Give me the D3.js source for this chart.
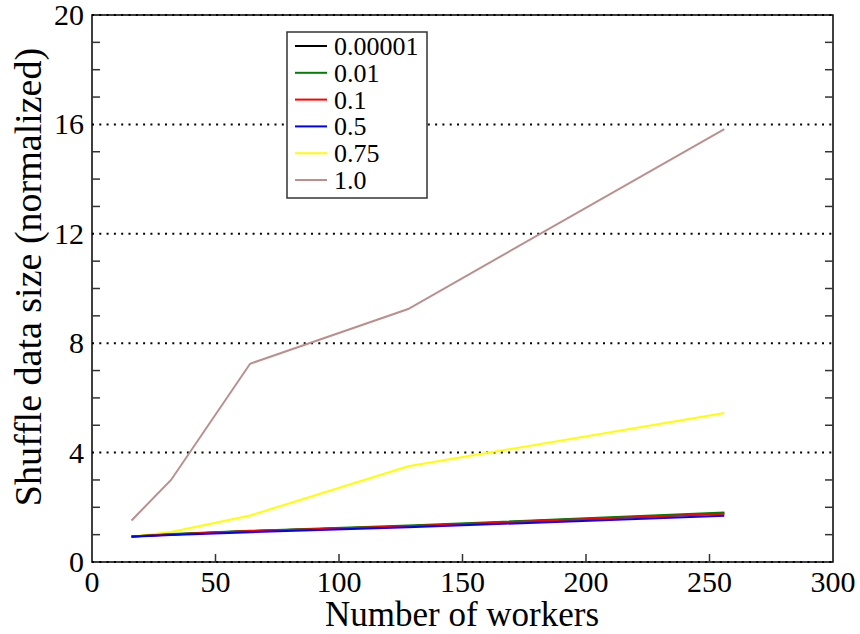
<!DOCTYPE html>
<html>
<head>
<meta charset="utf-8">
<script src="https://cdn.jsdelivr.net/npm/d3@7"></script>
<style>
  html, body { margin: 0; padding: 0; background: #fff; }
  svg { display: block; }
  svg text { font-family: "Liberation Serif", "DejaVu Serif", serif; fill: #000; }
</style>
</head>
<body>
<svg id="chart" width="860" height="634"></svg>
<script>
// Number of workers on the x axis
const workers = [16, 32, 64, 128, 256];

// Shuffle data size (normalized), one series per sampling fraction
const seriesNames = ["0.00001", "0.01", "0.1", "0.5", "0.75", "1.0"];
const seriesColors = ["#000000", "#008000", "#ff0000", "#0000ff", "#ffff00", "#bc8f8f"];
const s000001 = [0.93, 1.01, 1.13, 1.31, 1.78];
const s001    = [0.93, 1.02, 1.14, 1.33, 1.81];
const s01     = [0.93, 1.01, 1.13, 1.31, 1.76];
const s05     = [0.92, 0.99, 1.09, 1.27, 1.69];
const s075    = [0.93, 1.10, 1.70, 3.50, 5.45];
const s10     = [1.52, 3.00, 7.25, 9.25, 15.83];
const seriesValues = [s000001, s001, s01, s05, s075, s10];

const xTicks = [0, 50, 100, 150, 200, 250, 300];
const yTicks = [0, 4, 8, 12, 16, 20];
const yMinorTicks = d3.range(0, 21, 1);

const svg = d3.select("#chart");
const plotL = 92, plotR = 833, plotT = 15, plotB = 562;

const x = d3.scaleLinear().domain([0, 300]).range([plotL, plotR]);
const y = d3.scaleLinear().domain([0, 20]).range([plotB, plotT]);

// dotted horizontal grid at the labelled y values
svg.append("g").selectAll("line").data(yTicks).join("line")
  .attr("x1", plotL).attr("x2", plotR)
  .attr("y1", d => y(d)).attr("y2", d => y(d))
  .attr("stroke", "#000").attr("stroke-width", 2)
  .attr("stroke-dasharray", "2,5.3");

// frame
svg.append("rect")
  .attr("x", plotL).attr("y", plotT)
  .attr("width", plotR - plotL).attr("height", plotB - plotT)
  .attr("fill", "none").attr("stroke", "#000").attr("stroke-width", 1.5);

// inward minor ticks on left and right
const minor = svg.append("g").attr("stroke", "#333").attr("stroke-width", 1.5);
minor.selectAll("line.l").data(yMinorTicks.filter(d => d % 4 !== 0)).join("line")
  .attr("class", "l")
  .attr("x1", plotL).attr("x2", plotL + 8)
  .attr("y1", d => y(d)).attr("y2", d => y(d));
minor.selectAll("line.r").data(yMinorTicks.filter(d => d % 4 !== 0)).join("line")
  .attr("class", "r")
  .attr("x1", plotR - 8).attr("x2", plotR)
  .attr("y1", d => y(d)).attr("y2", d => y(d));

// inward x ticks along the bottom
svg.append("g").attr("stroke", "#333").attr("stroke-width", 1.5)
  .selectAll("line").data(xTicks.slice(1, -1)).join("line")
  .attr("x1", d => x(d)).attr("x2", d => x(d))
  .attr("y1", plotB).attr("y2", plotB - 8);

// tick labels
svg.append("g").selectAll("text").data(yTicks).join("text")
  .attr("x", plotL - 8).attr("y", d => y(d) + 10)
  .attr("text-anchor", "end")
  .attr("font-size", 30)
  .text(d => d);

svg.append("g").selectAll("text").data(xTicks).join("text")
  .attr("x", d => x(d)).attr("y", plotB + 30)
  .attr("text-anchor", "middle")
  .attr("font-size", 30)
  .text(d => d);

// axis titles
svg.append("text")
  .attr("x", 462).attr("y", 626)
  .attr("text-anchor", "middle").attr("font-size", 35)
  .text("Number of workers");

svg.append("text")
  .attr("transform", "translate(41, 277) rotate(-90)")
  .attr("text-anchor", "middle").attr("font-size", 38)
  .text("Shuffle data size (normalized)");

// data lines
const line = d3.line().x((d, i) => x(workers[i])).y(d => y(d));
const drawOrder = [5, 4, 0, 1, 2, 3];
svg.append("g").selectAll("path").data(drawOrder).join("path")
  .attr("d", k => line(seriesValues[k]))
  .attr("fill", "none")
  .attr("stroke", k => seriesColors[k])
  .attr("stroke-width", 2);

// legend
const lg = svg.append("g");
lg.append("rect")
  .attr("x", 287).attr("y", 32).attr("width", 140).attr("height", 166)
  .attr("fill", "#fff").attr("stroke", "#333").attr("stroke-width", 1.5);
const rows = lg.selectAll("g").data(seriesNames).join("g")
  .attr("transform", (d, i) => `translate(0, ${46 + i * 26.8})`);
rows.append("line")
  .attr("x1", 295).attr("x2", 327).attr("y1", 0).attr("y2", 0)
  .attr("stroke", (d, i) => seriesColors[i]).attr("stroke-width", 2);
rows.append("text")
  .attr("x", 334).attr("y", 9)
  .attr("font-size", 26)
  .text(d => d);
</script>
</body>
</html>
